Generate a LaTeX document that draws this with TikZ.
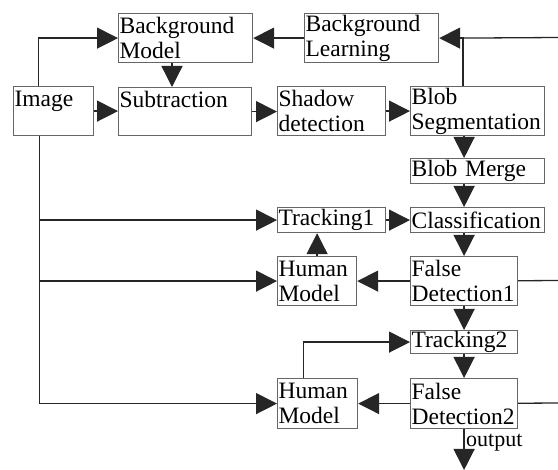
\documentclass[tikz,border=0pt]{standalone}
\usepackage{fontspec}
\setmainfont{Liberation Serif}
\usetikzlibrary{arrows.meta}
\colorlet{boxgray}{black!60}
\colorlet{linegray}{black!85}

\begin{document}
\begin{tikzpicture}[x=1pt, y=-1pt,
  blk/.style={draw=boxgray, line width=1.2pt, anchor=north west, inner xsep=1pt, inner ysep=0pt, align=left, font=\fontsize{23.5}{25}\selectfont},
  lbl/.style={anchor=base west, inner sep=0pt, font=\fontsize{22}{24}\selectfont},
  arr/.style={draw=linegray, line width=1.3pt, -{Triangle[length=21pt, width=21pt]}},
  wire/.style={draw=linegray, line width=1.3pt}]
\useasboundingbox (0,0) rectangle (558,470);
\node[blk, minimum width=80pt, minimum height=49pt, text width=78pt] (img) at (13,86) {Image\\~};
\node[blk, minimum width=134pt, minimum height=49pt, text width=132pt] (bgm) at (118,13) {Background\\Model};
\node[blk, minimum width=134pt, minimum height=49pt, text width=132pt] (bgl) at (304,13) {Background\\Learning};
\node[blk, minimum width=133pt, minimum height=48pt, text width=131pt] (sub) at (118,87) {Subtraction\\~};
\node[blk, minimum width=108pt, minimum height=49pt, text width=106pt] (shd) at (277,86) {Shadow\\detection};
\node[blk, minimum width=134pt, minimum height=49pt, text width=132pt] (seg) at (410,86) {Blob\\Segmentation};
\node[blk, minimum width=134pt, minimum height=25pt, text width=132pt] (mrg) at (410,158) {Blob Merge};
\node[blk, minimum width=108pt, minimum height=25pt, text width=106pt] (trk1) at (277,207) {Tracking1};
\node[blk, minimum width=134pt, minimum height=25pt, text width=132pt] (cls) at (410,207) {Classification};
\node[blk, minimum width=79pt, minimum height=49pt, text width=77pt] (hm1) at (277,256) {Human\\Model};
\node[blk, minimum width=107pt, minimum height=49pt, text width=105pt] (fd1) at (410,256) {False\\Detection1};
\node[blk, minimum width=107pt, minimum height=23pt, text width=105pt] (trk2) at (410,330) {Tracking2};
\node[blk, minimum width=80pt, minimum height=50pt, text width=78pt] (hm2) at (277,378) {Human\\Model};
\node[blk, minimum width=107pt, minimum height=50pt, text width=105pt] (fd2) at (410,378) {False\\Detection2};
\node[lbl] (outlbl) at (466,447) {output};
\coordinate (trunk) at ([xshift=-14pt]img.south);
\coordinate (bgx) at (172,0);
\coordinate (segx) at (463,0);
\coordinate (out) at (fd1.center |- 0,470);
\coordinate (r0) at (558,37.5);
\coordinate (r1) at (558,280.5);
\coordinate (r2) at (558,403);
\draw[arr] ([xshift=-15pt]img.north) |- (bgm.west);
\draw[arr] (img.east) -- (img.east -| sub.west);
\draw[arr] (bgm.south -| bgx) -- (sub.north -| bgx);
\draw[arr] (bgl) -- (bgm);
\draw[arr] (seg.north -| segx) |- (bgl.east);
\draw[wire] (bgl.east -| segx) -- (r0);
\draw[arr] (sub.east) -- (sub.east -| shd.west);
\draw[arr] (shd) -- (seg);
\draw[arr] (seg.south -| fd1) -- (mrg.north -| fd1);
\draw[arr] (mrg.south -| fd1) -- (cls.north -| fd1);
\draw[arr] (cls.south -| fd1) -- (fd1.north);
\draw[arr] (fd1) -- (trk2);
\draw[arr] (trk2) -- (fd2);
\draw[arr] (fd2.south) -- (out);
\draw[arr] (fd1) -- (hm1);
\draw[arr] (fd2) -- (hm2);
\draw[arr] (hm1.north) -- (hm1.north |- trk1.south);
\draw[arr] (trk1) -- (cls);
\draw[arr] (trunk) |- (hm2.west);
\draw[arr] (trunk |- trk1) -- (trk1);
\draw[arr] (trunk |- hm1) -- (hm1);
\draw[arr] ([xshift=-14pt]hm2.north) |- (trk2.west);
\draw[wire] (fd1) -- (r1);
\draw[wire] (fd2) -- (r2);
\end{tikzpicture}
\end{document}
